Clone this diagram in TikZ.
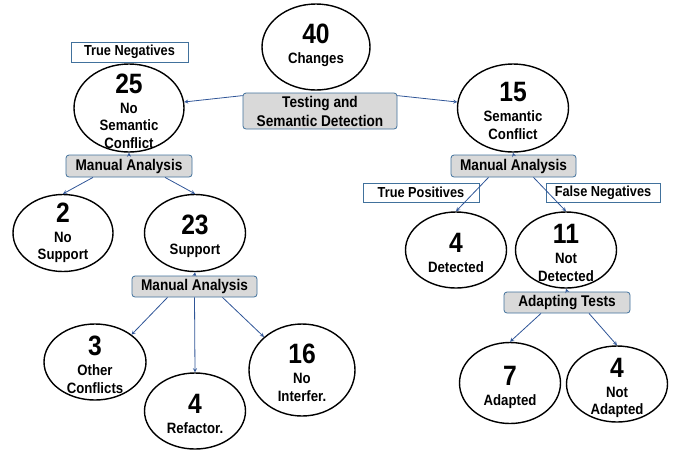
\documentclass[tikz,border=0pt]{standalone}
\usepackage{fontspec}
\setmainfont{Liberation Sans}[FakeStretch=0.88]
\usetikzlibrary{shapes.geometric, arrows, positioning}
\definecolor{linkblue}{RGB}{47,85,151}
\definecolor{boxblue}{RGB}{65,113,156}
\definecolor{boxgray}{RGB}{217,217,217}
\tikzset{
    count/.style = {ellipse, draw=black, line width=1.4pt, inner sep=0pt, minimum width=101pt, minimum height=77pt},
    tally/.style = {align=center, font=\bfseries\fontsize{15}{17.5}\selectfont, inner sep=0pt, yshift=-3pt},
    analysis/.style = {rectangle, rounded corners=3pt, draw=boxblue, fill=boxgray, line width=0.8pt, minimum width=125pt, minimum height=21pt, inner sep=1pt, font=\bfseries\fontsize{15.5}{19}\selectfont},
    outcome/.style = {rectangle, draw=boxblue, fill=white, line width=0.8pt, minimum width=116pt, minimum height=19pt, inner sep=1pt, font=\bfseries\fontsize{14.5}{16}\selectfont},
    arrow/.style = {draw=linkblue, line width=0.8pt, ->, >=stealth}
}
\newcommand{\nb}[1]{{\fontsize{28}{28}\selectfont #1}}

\begin{document}
\begin{tikzpicture}[x=1pt, y=-1pt]
    \useasboundingbox (0,0) rectangle (677,451);
    % Nodos
    \node (n40) [count, minimum width=108pt, minimum height=86pt, label={[tally, yshift=5pt]center:{\nb{40}\\[2.5pt]Changes}}] at (316,47) {};
    \node (n25) [count, minimum width=110pt, minimum height=88pt, label={[tally]center:{\nb{25}\\[2.5pt]No\\Semantic\\Conflict}}] at (129,108) {};
    \node (n15) [count, minimum width=111pt, minimum height=88pt, label={[tally]center:{\nb{15}\\[2.5pt]Semantic\\Conflict}}] at (513,108) {};
    \node (n2) [count, minimum width=100pt, label={[tally, yshift=3pt]center:{\nb{2}\\[2.5pt]No\\Support}}] at (63,233) {};
    \node (n23) [count, label={[tally]center:{\nb{23}\\[2.5pt]Support}}] at (195,233) {};
    \node (n3) [count, minimum width=102pt, minimum height=76pt, label={[tally]center:{\nb{3}\\[2.5pt]Other\\Conflicts}}] at (95,362) {};
    \node (n4r) [count, minimum height=76pt, label={[tally]center:{\nb{4}\\[2.5pt]Refactor.}}] at (195,411) {};
    \node (n16) [count, minimum width=106pt, minimum height=92pt, label={[tally]center:{\nb{16}\\[2.5pt]No\\Interfer.}}] at (302,370) {};
    \node (n4d) [count, minimum height=76pt, label={[tally]center:{\nb{4}\\[2.5pt]Detected}}] at (456,250) {};
    \node (n11) [count, minimum height=76pt, label={[tally]center:{\nb{11}\\[2.5pt]Not\\Detected}}] at (566,250) {};
    \node (n7) [count, minimum height=81pt, label={[tally, yshift=-1pt]center:{\nb{7}\\[2.5pt]Adapted}}] at (510,383) {};
    \node (n4n) [count, minimum height=76pt, label={[tally, yshift=-1pt]center:{\nb{4}\\[2.5pt]Not\\Adapted}}] at (617,384) {};

    % Cajas
    \node (tsd) [analysis, minimum width=154pt, minimum height=36pt, align=center] at (320,111) {Testing and\\Semantic Detection};
    \node (tn) [outcome, minimum width=117pt, minimum height=20pt] at (129.5,52) {True Negatives};
    \node (ma1) [analysis, minimum width=126pt, minimum height=22pt] at (129,166) {Manual Analysis};
    \node (ma2) [analysis, minimum height=22pt] at (513.5,166) {Manual Analysis};
    \node (tp) [outcome] at (421,192.5) {True Positives};
    \node (fn) [outcome, minimum width=114pt] at (603,192.5) {False Negatives};
    \node (ma3) [analysis] at (194.5,286.5) {Manual Analysis};
    \node (at) [analysis, minimum width=126pt] at (567,302.5) {Adapting Tests};

    % Flechas
    \draw [arrow] ([yshift=-3pt]tsd.north west) -- (n25);
    \draw [arrow] ([yshift=-3pt]tsd.north east) -- (n15);
    \draw [arrow] (ma1.north) -- (n25.south);
    \draw [arrow] ([xshift=-36pt]ma1.south) -- (n2.north);
    \draw [arrow] ([xshift=36pt]ma1.south) -- (n23.north);
    \draw [arrow] (ma2.north) -- (n15.south);
    \draw [arrow] ([xshift=-25pt]ma2.south) -- (n4d.north);
    \draw [arrow] ([xshift=20pt]ma2.south) -- (n11.north);
    \draw [arrow] (ma3.north) -- (n23.south);
    \draw [arrow] ([xshift=-27pt]ma3.south) -- (n3.north east);
    \draw [arrow] (ma3.south) -- (n4r.north);
    \draw [arrow] ([xshift=28pt]ma3.south) -- (n16.north west);
    \draw [arrow] (at.north) -- (n11.south);
    \draw [arrow] ([xshift=-26pt]at.south) -- (n7.north);
    \draw [arrow] ([xshift=22pt]at.south) -- (n4n.north);
\end{tikzpicture}
\end{document}
